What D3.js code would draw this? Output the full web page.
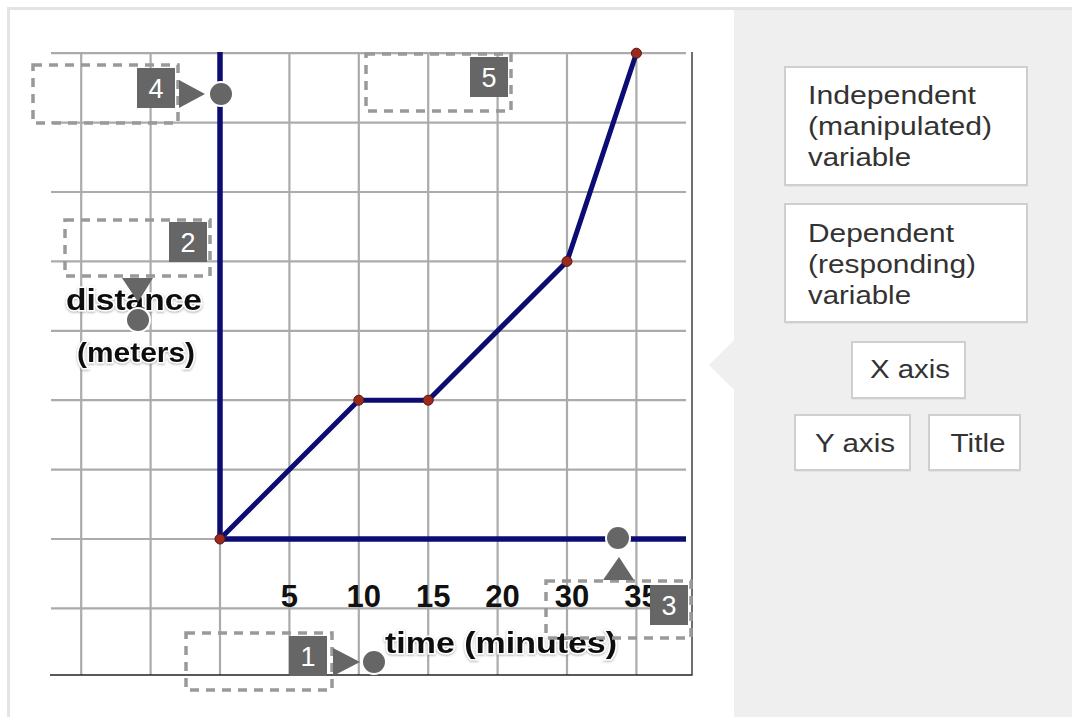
<!DOCTYPE html>
<html>
<head>
<meta charset="utf-8">
<script src="https://cdn.jsdelivr.net/npm/d3@7"></script>
<style>
  html, body { margin: 0; padding: 0; background: #ffffff; }
  svg { display: block; }
  text { font-family: "Liberation Sans", Arial, Helvetica, sans-serif; }
</style>
</head>
<body>
<svg id="chart" width="1072" height="717"></svg>
<script>
// ---- data ----
const xTickValues = [5, 10, 15, 20, 30, 35];          // minutes, one per grid column
const xTickLabels = ["5", "10", "15", "20", "30", "35"];
const timeValues = [0, 10, 15, 30, 35];                // minutes
const distanceValues = [0, 2, 2, 4, 7];                // grid units of distance
const yAxisLabelLines = ["distance", "(meters)"];
const xAxisLabel = "time (minutes)";
const dropZoneNumbers = ["1", "2", "3", "4", "5"];
const choiceLabels = [
  ["Independent", "(manipulated)", "variable"],
  ["Dependent", "(responding)", "variable"],
  ["X axis"],
  ["Y axis"],
  ["Title"]
];

// ---- layout ----
const svg = d3.select("#chart");
const step = 69.4;
const originX = 220, originY = 539;
const imgLeft = 51, imgRight = 692, imgTop = 52, imgBottom = 675;

// column scale (grid units) and piecewise time scale
const gx = d3.scaleLinear().domain([0, 6]).range([originX, originX + 6 * step]);
const x = d3.scaleLinear()
  .domain([0].concat(xTickValues))
  .range(d3.range(0, 7).map(i => gx(i)));
const y = d3.scaleLinear().domain([0, 7]).range([originY, originY - 7 * step]);

// outer frame
svg.append("rect").attr("x", 8.5).attr("y", 8.5).attr("width", 1100).attr("height", 800)
  .attr("fill", "#fff").attr("stroke", "#e4e4e4").attr("stroke-width", 3);

// right panel with notch
svg.append("rect").attr("x", 734).attr("y", 10).attr("width", 338).attr("height", 707)
  .attr("fill", "#efefef");
svg.append("path").attr("d", "M734,340 L709,365 L734,390 Z").attr("fill", "#efefef");

// ---- chart image ----
const g = svg.append("g");

// gridlines
const colIdx = d3.range(-2, 7);
const rowIdx = d3.range(-1, 8);
g.selectAll("line.vg").data(colIdx).join("line").attr("class", "vg")
  .attr("x1", d => gx(d)).attr("x2", d => gx(d))
  .attr("y1", imgTop).attr("y2", imgBottom)
  .attr("stroke", "#ababab").attr("stroke-width", 2.2);
g.selectAll("line.hg").data(rowIdx).join("line").attr("class", "hg")
  .attr("x1", imgLeft).attr("x2", 686)
  .attr("y1", d => y(d)).attr("y2", d => y(d))
  .attr("stroke", "#ababab").attr("stroke-width", 2.2);

// image border (right & bottom)
g.append("path")
  .attr("d", `M${imgRight},${imgTop} V${imgBottom} H${imgLeft - 1}`)
  .attr("fill", "none").attr("stroke", "#222").attr("stroke-width", 1.3);

// axes
const navy = "#0c0c72";
g.append("line").attr("x1", x(0)).attr("x2", x(0)).attr("y1", imgTop).attr("y2", y(0))
  .attr("stroke", navy).attr("stroke-width", 5.5);
g.append("line").attr("x1", x(0)).attr("x2", 686).attr("y1", y(0)).attr("y2", y(0))
  .attr("stroke", navy).attr("stroke-width", 5.5);

// data line
const pts = timeValues.map((t, i) => [t, distanceValues[i]]);
g.append("path").datum(pts)
  .attr("d", d3.line().x(d => x(d[0])).y(d => y(d[1])))
  .attr("fill", "none").attr("stroke", navy).attr("stroke-width", 5)
  .attr("stroke-linejoin", "round");
g.selectAll("circle.pt").data(pts).join("circle").attr("class", "pt")
  .attr("cx", d => x(d[0])).attr("cy", d => y(d[1])).attr("r", 5)
  .attr("fill", "#9a2a1e").attr("stroke", "#5a1410").attr("stroke-width", 1);

// halo filter for labels
const defs = svg.append("defs");
const f = defs.append("filter").attr("id", "halo").attr("x", "-10%").attr("y", "-30%")
  .attr("width", "120%").attr("height", "160%");
f.append("feDropShadow").attr("dx", 0).attr("dy", 1).attr("stdDeviation", 1.2)
  .attr("flood-color", "#777").attr("flood-opacity", 0.6);

// x tick labels
g.selectAll("text.xt").data(xTickValues).join("text").attr("class", "xt")
  .attr("x", (d, i) => x(d) + (i === 0 ? 0 : 5)).attr("y", 607)
  .attr("text-anchor", "middle").attr("font-size", 31).attr("font-weight", "bold")
  .attr("fill", "#111")
  .text((d, i) => xTickLabels[i]);

// x axis label
g.append("text").attr("x", 501).attr("y", 653).attr("text-anchor", "middle")
  .attr("font-size", 29).attr("font-weight", "bold").attr("fill", "#111")
  .attr("textLength", 232).attr("lengthAdjust", "spacingAndGlyphs")
  .attr("stroke", "#fff").attr("stroke-width", 3).attr("paint-order", "stroke")
  .attr("filter", "url(#halo)")
  .text(xAxisLabel);

// y axis label
g.append("text").attr("x", 134).attr("y", 310).attr("text-anchor", "middle")
  .attr("font-size", 30).attr("font-weight", "bold").attr("fill", "#111")
  .attr("textLength", 136).attr("lengthAdjust", "spacingAndGlyphs")
  .attr("stroke", "#fff").attr("stroke-width", 3).attr("paint-order", "stroke")
  .attr("filter", "url(#halo)")
  .text(yAxisLabelLines[0]);
g.append("text").attr("x", 136).attr("y", 362).attr("text-anchor", "middle")
  .attr("font-size", 27).attr("font-weight", "bold").attr("fill", "#111")
  .attr("textLength", 118).attr("lengthAdjust", "spacingAndGlyphs")
  .attr("stroke", "#fff").attr("stroke-width", 3).attr("paint-order", "stroke")
  .attr("filter", "url(#halo)")
  .text(yAxisLabelLines[1]);

// ---- drop zones ----
const zones = [
  { box: [186, 633, 146, 57], badge: [289, 636], tri: "M333,648 L360,662 L333,676 Z", dot: [374, 662] },
  { box: [65, 220, 145, 56], badge: [169, 222], tri: "M122,278 L153,278 L138,302 Z", dot: [138, 320] },
  { box: [546, 581, 145, 57], badge: [650, 585], tri: "M603,580 L634,580 L619,557 Z", dot: [618, 538] },
  { box: [33, 65, 145, 58], badge: [137, 68], tri: "M179,80 L205,94 L179,108 Z", dot: [221, 94] },
  { box: [366, 54, 145, 57], badge: [470, 57], tri: null, dot: null }
];
const zg = svg.append("g");
zones.forEach((z, i) => {
  zg.append("rect").attr("x", z.box[0]).attr("y", z.box[1])
    .attr("width", z.box[2]).attr("height", z.box[3])
    .attr("fill", "none").attr("stroke", "#999").attr("stroke-width", 3.5)
    .attr("stroke-dasharray", "9,7");
  zg.append("rect").attr("x", z.badge[0]).attr("y", z.badge[1])
    .attr("width", 38).attr("height", 40).attr("fill", "#666");
  zg.append("text").attr("x", z.badge[0] + 19).attr("y", z.badge[1] + 30)
    .attr("text-anchor", "middle").attr("font-size", 27).attr("fill", "#fff")
    .text(dropZoneNumbers[i]);
  if (z.tri) zg.append("path").attr("d", z.tri).attr("fill", "#666");
  if (z.dot) zg.append("circle").attr("cx", z.dot[0]).attr("cy", z.dot[1]).attr("r", 12)
    .attr("fill", "#666").attr("stroke", "#fff").attr("stroke-width", 2);
});

// ---- choice buttons ----
const buttons = [
  { r: [785, 67, 242, 118], tx: 808, ty: [104, 135, 166], anchor: "start", w: [168, 184, 103] },
  { r: [785, 204, 242, 118], tx: 808, ty: [242, 273, 304], anchor: "start", w: [146, 168, 103] },
  { r: [852, 342, 113, 56], tx: 910, ty: [378], anchor: "middle", w: [80] },
  { r: [795, 415, 115, 55], tx: 855, ty: [452], anchor: "middle", w: [80] },
  { r: [929, 415, 91, 55], tx: 978, ty: [452], anchor: "middle", w: [55] }
];
const bg = svg.append("g");
buttons.forEach((b, i) => {
  bg.append("rect").attr("x", b.r[0] + 0.5).attr("y", b.r[1] + 1.5)
    .attr("width", b.r[2]).attr("height", b.r[3]).attr("fill", "#d8d8d8");
  bg.append("rect").attr("x", b.r[0]).attr("y", b.r[1])
    .attr("width", b.r[2]).attr("height", b.r[3])
    .attr("fill", "#fff").attr("stroke", "#cfcfcf").attr("stroke-width", 2);
  choiceLabels[i].forEach((line, j) => {
    bg.append("text").attr("x", b.tx).attr("y", b.ty[j])
      .attr("text-anchor", b.anchor).attr("font-size", 26).attr("fill", "#333")
      .attr("textLength", b.w[j]).attr("lengthAdjust", "spacingAndGlyphs")
      .text(line);
  });
});
</script>
</body>
</html>
